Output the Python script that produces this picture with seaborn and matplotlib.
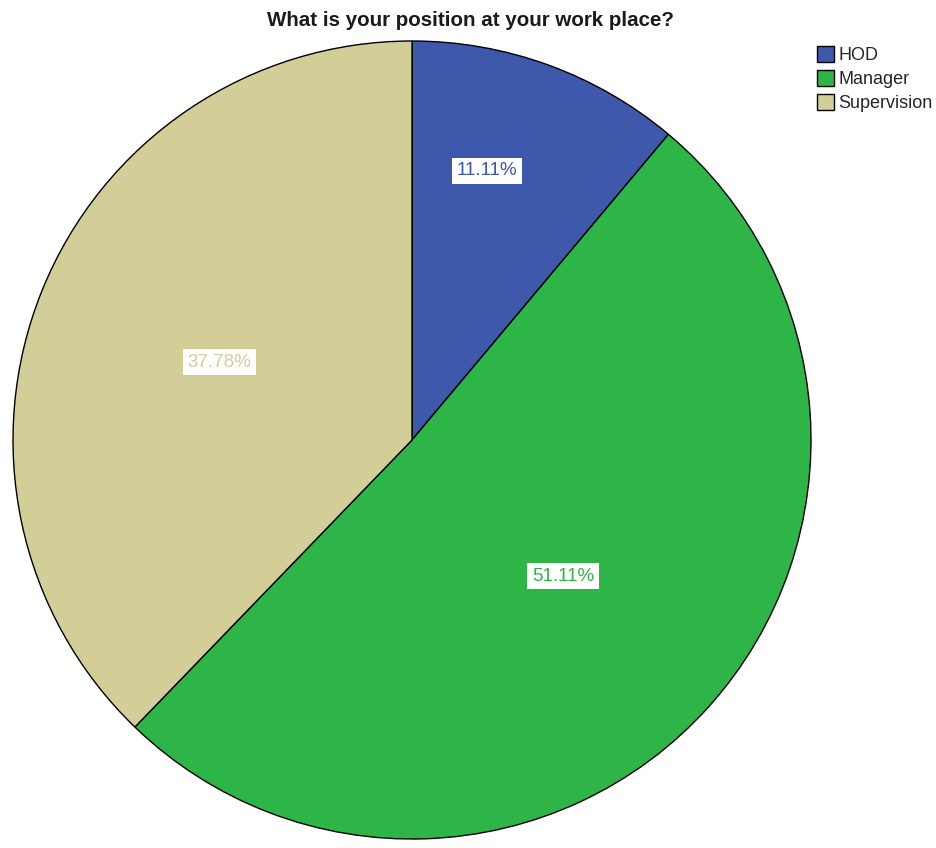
import numpy as np
import matplotlib
matplotlib.use("Agg")
import matplotlib.pyplot as plt
import seaborn as sns

categories = ["HOD", "Manager", "Supervision"]
percents = [11.11, 51.11, 37.78]
colors = ["#3E58AC", "#2EB548", "#D3CE97"]
label_colors = ["#3E58AC", "#2EB548", "#D3CE97"]
label_dist = [0.70, 0.51, 0.52]
label_turn = [4.5, 0, 0]

sns.set_theme(style="white")
plt.rcParams['font.family'] = ['Liberation Sans', 'DejaVu Sans']

fig = plt.figure(figsize=(9.36, 8.48), dpi=100)
ax = fig.add_axes([13 / 936, 9 / 848, 798 / 936, 798 / 848])

wedges, _ = ax.pie(percents, colors=colors, startangle=90, counterclock=False,
                   wedgeprops=dict(edgecolor="black", linewidth=1.0))
ax.set_xlim(-1, 1)
ax.set_ylim(-1, 1)
ax.set_aspect("auto")

for w, p, c, d, t in zip(wedges, percents, label_colors, label_dist, label_turn):
    ang = np.deg2rad((w.theta1 + w.theta2) / 2 + t)
    ax.text(d * np.cos(ang), d * np.sin(ang), f"{p:.2f}%", ha="center", va="center",
            fontsize=13.5, color=c,
            bbox=dict(boxstyle="square,pad=0.25", facecolor="white", edgecolor="none"))

fig.text(470 / 936, 1 - 21 / 848, "What is your position at your work place?",
         ha="center", va="center", fontsize=14.8, fontweight="bold", color="#1a1a1a")

leg = fig.legend(wedges, categories, loc="upper left", bbox_to_anchor=(817 / 936, 1 - 46 / 848),
                 frameon=False, fontsize=13, handlelength=0.95, handleheight=0.95,
                 handletextpad=0.25, labelspacing=0.34, borderaxespad=0, borderpad=0)

fig.savefig("out.png", dpi=100, facecolor="white")
